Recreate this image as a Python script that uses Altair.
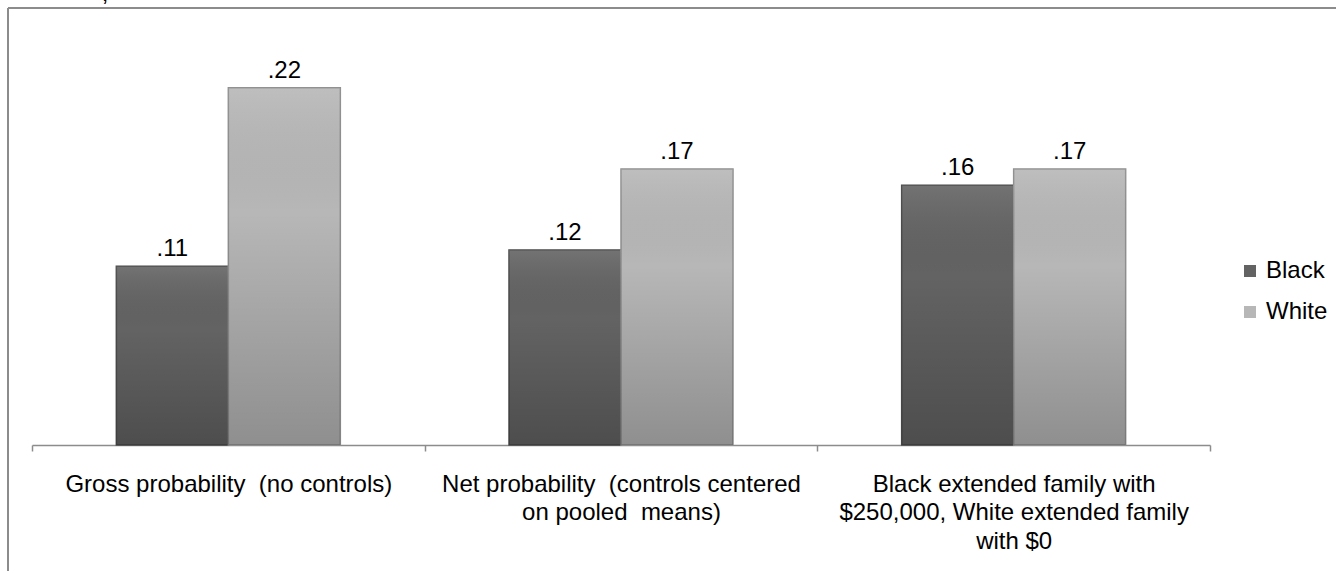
import altair as alt
import pandas as pd

categories = [
    "Gross probability\u00a0 (no controls)",
    "Net probability\u00a0 (controls centered|on pooled\u00a0 means)",
    "Black extended family with|$250,000, White extended family|with $0",
]
series = ["Black", "White"]
black_values = [0.11, 0.12, 0.16]
white_values = [0.22, 0.17, 0.17]

rows = []
for i, c in enumerate(categories):
    rows.append({"category": c, "series": "Black", "value": black_values[i]})
    rows.append({"category": c, "series": "White", "value": white_values[i]})
df = pd.DataFrame(rows)

FONT = "Liberation Sans"
GRAY = "#8c8c8c"
FS = 24

x_enc = alt.X(
    "category:N",
    sort=categories,
    scale=alt.Scale(paddingInner=0, paddingOuter=0),
    axis=alt.Axis(
        title=None, labelAngle=0, tickBand="extent",
        labelExpr="split(datum.label, '|')",
        labelFontSize=FS, labelFont=FONT, labelColor="black",
        labelLineHeight=28.5, labelPadding=21, labelLimit=500,
        tickSize=6, tickColor=GRAY, tickWidth=1.5,
        domainColor=GRAY, domainWidth=1.5, grid=False,
    ),
)
xoff = alt.XOffset("series:N", sort=series,
                   scale=alt.Scale(paddingInner=0, paddingOuter=0.753))
y_enc = alt.Y("value:Q", scale=alt.Scale(domain=[0, 0.25]), axis=None)

bars = alt.Chart(df).mark_bar(strokeWidth=1.5).encode(
    x=x_enc, xOffset=xoff, y=y_enc,
    color=alt.Color("series:N", sort=series,
                    scale=alt.Scale(domain=series, range=["#636363", "#b7b7b7"]),
                    legend=alt.Legend(title=None)),
    stroke=alt.Stroke("series:N", scale=alt.Scale(domain=series, range=["#4a4a4a", "#8e8e8e"]),
                      legend=None),
)

shade = alt.Chart(df).mark_bar(
    fill=alt.Gradient(
        gradient="linear",
        stops=[
            alt.GradientStop(color="rgba(255,255,255,0.10)", offset=0),
            alt.GradientStop(color="rgba(0,0,0,0)", offset=0.35),
            alt.GradientStop(color="rgba(0,0,0,0.22)", offset=1),
        ],
        x1=0, x2=0, y1=0, y2=1,
    ),
    strokeWidth=0,
).encode(x=x_enc, xOffset=xoff, y=y_enc)

labels = alt.Chart(df).transform_calculate(
    label="replace(format(datum.value, '.2f'), '0.', '.')"
).mark_text(fontSize=FS, font=FONT, color="black", baseline="bottom", dy=-5).encode(
    x=x_enc, xOffset=xoff, y=y_enc, text="label:N"
)

one = pd.DataFrame({"k": [0]})
frame_top = alt.Chart(one).mark_rule(color=GRAY, strokeWidth=2).encode(
    x=alt.value(-24), x2=alt.value(1320), y=alt.value(-31))
frame_left = alt.Chart(one).mark_rule(color=GRAY, strokeWidth=2).encode(
    x=alt.value(-24), y=alt.value(-31), y2=alt.value(540))
fragment = alt.Chart(one).mark_text(fontSize=FS, font=FONT, color="black",
                                     baseline="alphabetic").encode(
    x=alt.value(73), y=alt.value(-38), text=alt.value(","))

chart = alt.layer(frame_top, frame_left, fragment, bars, shade, labels).properties(
    width=1178, height=406,
    autosize=alt.AutoSizeParams(type="none"),
    padding={"left": 32, "top": 39, "right": 126, "bottom": 126},
).configure_view(stroke=None).configure_legend(
    orient="none", legendX=1206, legendY=220,
    labelFontSize=FS, labelFont=FONT, labelColor="black",
    symbolType="square", symbolSize=144, symbolStrokeWidth=0,
    labelOffset=4, rowPadding=17,
)

chart.save("out.html", embed_options={"renderer": "svg", "actions": False})
